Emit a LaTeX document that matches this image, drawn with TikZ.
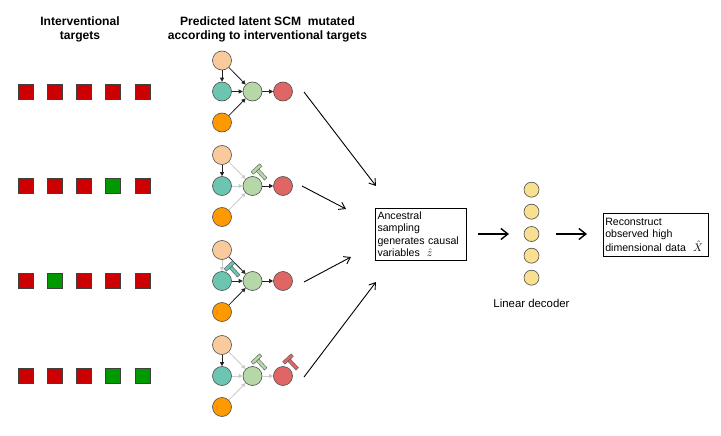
\documentclass[tikz,border=0pt]{standalone}
\usepackage{fontspec}
\setmainfont{Liberation Sans}
\usetikzlibrary{arrows.meta}
\definecolor{cpeach}{HTML}{F9CB9C}
\definecolor{cteal}{HTML}{6CC5B0}
\definecolor{cgreen}{HTML}{B6D7A8}
\definecolor{cred}{HTML}{E06666}
\definecolor{corange}{HTML}{FF9900}
\definecolor{cyel}{HTML}{F9DF90}
\definecolor{sqred}{HTML}{CC0000}
\definecolor{sqgreen}{HTML}{009900}
\definecolor{edgeoff}{HTML}{CCCCCC}
\definecolor{edgeon}{HTML}{222222}
\tikzset{
  x=1pt,y=-1pt,
  vert/.style={circle,draw=black!70,line width=.6pt,minimum size=19pt,inner sep=0pt},
  sq/.style={rectangle,draw=black!75,line width=.6pt,minimum size=15pt,inner sep=0pt},
  dec/.style={circle,draw=black!70,line width=.6pt,minimum size=15pt,inner sep=0pt,fill=cyel},
  on/.style={draw=edgeon,line width=.8pt,-{Triangle[length=4pt,width=4pt]}},
  off/.style={draw=edgeoff,line width=.8pt,-{Triangle[length=4pt,width=4pt]}},
  bigarrow/.style={draw=black,line width=.9pt,-{Straight Barb[length=6pt,width=8pt,line width=.9pt]}},
  fatarrow/.style={draw=black,line width=1.4pt,-{Straight Barb[length=7pt,width=11pt,line width=1.4pt]}},
  head/.style={font=\bfseries\fontsize{12.1}{14}\selectfont,align=center,inner sep=0pt},
  box/.style={draw=black,line width=.8pt,fill=white,inner sep=0pt,anchor=north west,align=left,font=\fontsize{10.6}{12.3}\selectfont},
}
% #1 bar centre x, #2 bar centre y, #3 colour
\newcommand{\hammermark}[3]{%
  \begin{scope}[shift={(#1,#2)},rotate=-47]
    \fill[#3,draw=black!65,line width=.4pt] (-1.7,-5.8) rectangle (1.7,5.8);
    \fill[#3,draw=black!65,line width=.4pt] (1.7,-1.7) rectangle (13.5,1.7);
  \end{scope}}
% #1 prefix, #2 y of middle row, #3 #4 #5 #6 #7 edge styles: top-left, top-centre, left-centre, bottom-centre, centre-right
\newcommand{\scm}[7]{%
  \node[vert,fill=cpeach] (#1t) at (222,#2-31) {};
  \node[vert,fill=cteal] (#1l) at (222,#2) {};
  \node[vert,fill=cgreen] (#1c) at (252.5,#2) {};
  \node[vert,fill=cred] (#1r) at (283,#2) {};
  \node[vert,fill=corange] (#1b) at (222,#2+31) {};
  \draw[#3] (#1t) -- (#1l);
  \draw[#4] (#1t) -- (#1c);
  \draw[#5] (#1l) -- (#1c);
  \draw[#6] (#1b) -- (#1c);
  \draw[#7] (#1c) -- (#1r);
}
% #1 prefix, #2 y, #3..#7 colours of squares
\newcommand{\targets}[7]{%
  \node[sq,fill=#3] (#1a) at (25.5,#2) {};
  \node[sq,fill=#4] (#1b) at (55,#2) {};
  \node[sq,fill=#5] (#1c) at (84,#2) {};
  \node[sq,fill=#6] (#1d) at (113,#2) {};
  \node[sq,fill=#7] (#1e) at (143,#2) {};
}
\begin{document}
\begin{tikzpicture}
\useasboundingbox (0,0) rectangle (721,436);
\fill[white] (0,0) rectangle (721,436);
\node[head] (h1) at (80,29.8) {Interventional\\targets};
\node[head] (h2) at (267.5,29.8) {Predicted latent SCM\ \ mutated\\according to interventional targets};
\targets{sa}{92}{sqred}{sqred}{sqred}{sqred}{sqred}
\targets{sb}{186}{sqred}{sqred}{sqred}{sqgreen}{sqred}
\targets{sc}{281}{sqred}{sqgreen}{sqred}{sqred}{sqred}
\targets{sd}{376}{sqred}{sqred}{sqred}{sqgreen}{sqgreen}
\scm{ga}{91.5}{on}{on}{on}{on}{on}
\scm{gb}{186}{on}{off}{off}{off}{on}
\scm{gc}{281}{off}{on}{on}{on}{on}
\scm{gd}{376}{on}{off}{off}{off}{off}
\hammermark{256.5}{169}{cgreen}
\hammermark{229.5}{266}{cteal}
\hammermark{256.5}{359}{cgreen}
\hammermark{288}{359}{cred}
\coordinate (a1s) at (304,92); \coordinate (a1e) at (376,186);
\coordinate (a2s) at (302,186); \coordinate (a2e) at (346,209);
\coordinate (a3s) at (304,282); \coordinate (a3e) at (351,257);
\coordinate (a4s) at (304,377); \coordinate (a4e) at (376,282);
\draw[bigarrow] (a1s) -- (a1e);
\draw[bigarrow] (a2s) -- (a2e);
\draw[bigarrow] (a3s) -- (a3e);
\draw[bigarrow] (a4s) -- (a4e);
\node[box,minimum width=91pt,minimum height=52.5pt,text width=89pt] (anc) at (374.5,207.7) {\hspace*{1.6pt}Ancestral\\\hspace*{1.6pt}sampling\\\hspace*{1.6pt}generates causal\\\hspace*{1.6pt}variables\ \ $\hat{z}$};
\node[dec] (d1) at (531.5,189.7) {};
\node[dec] (d2) at (531.5,211.7) {};
\node[dec] (d3) at (531.5,234) {};
\node[dec] (d4) at (531.5,255.7) {};
\node[dec] (d5) at (531.5,277.7) {};
\node[inner sep=0pt,font=\fontsize{11.4}{13}\selectfont] (ld) at (531.5,303) {Linear decoder};
\node[box,minimum width=105.5pt,minimum height=42.5pt,text width=104pt] (rec) at (602.5,213) {\hspace*{1.6pt}Reconstruct\\\hspace*{1.6pt}observed high\\\hspace*{1.6pt}dimensional data\ \ $\hat{X}$};
\coordinate (f1s) at (478,234); \coordinate (f1e) at (509,234);
\coordinate (f2s) at (556,234); \coordinate (f2e) at (587,234);
\draw[fatarrow] (f1s) -- (f1e);
\draw[fatarrow] (f2s) -- (f2e);
\end{tikzpicture}
\end{document}
